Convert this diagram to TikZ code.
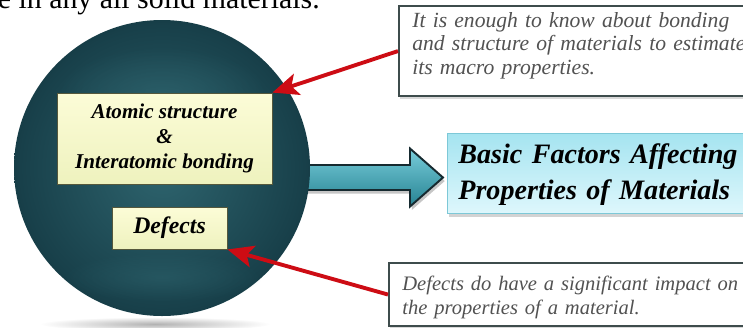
\documentclass[tikz,border=0pt]{standalone}
\usepackage{fontspec}
\setmainfont{Liberation Serif}
\usetikzlibrary{calc,shadows,fadings,arrows.meta}

\definecolor{balllight}{RGB}{46,100,110}
\definecolor{ballmid}{RGB}{24,64,74}
\definecolor{balldark}{RGB}{8,26,32}
\definecolor{rimblue}{RGB}{140,195,202}
\definecolor{rimpale}{RGB}{205,230,234}
\definecolor{noteline}{RGB}{62,76,76}
\definecolor{boxyellow}{RGB}{252,252,215}
\definecolor{boxyellow2}{RGB}{238,242,190}
\definecolor{boxedge}{RGB}{85,88,60}
\definecolor{cyanlight}{RGB}{222,247,252}
\definecolor{cyandark}{RGB}{165,228,240}
\definecolor{cyanedge}{RGB}{125,200,215}
\definecolor{arrowlight}{RGB}{120,205,218}
\definecolor{arrowdark}{RGB}{38,130,146}
\definecolor{arrowedge}{RGB}{22,42,48}
\definecolor{arrowred}{RGB}{205,12,20}

\pgfdeclareradialshading{glassball}{\pgfpoint{0bp}{0bp}}{%
    color(0bp)=(balllight); color(24bp)=(ballmid); color(40bp)=(balldark);
    color(47bp)=(balldark); color(49bp)=(rimblue); color(50bp)=(rimpale)}
\tikzfading[name = softglow, inner color = transparent!0, outer color = transparent!100]

\begin{document}
\begin{tikzpicture}[>=Stealth,
    yellowbox/.style = {draw = boxedge, line width = 0.5pt, top color = boxyellow, bottom color = boxyellow2, align = center, inner sep = 0pt},
    notebox/.style = {draw = noteline, line width = 1.2pt, fill = white, anchor = north west, inner sep = 0pt, drop shadow = {opacity = 0.3, shadow xshift = 0.6pt, shadow yshift = -1.5pt}},
    notetext/.style = {text = black!68, anchor = base west, align = left, inner sep = 0pt},
    redarrow/.style = {-{Stealth[length = 5.2mm, width = 4.4mm, inset = 1.2mm]}, draw = arrowred, line width = 2.2pt},
    bigarrow/.style = {draw = arrowedge, line width = 1.1pt, line join = miter, top color = arrowlight, bottom color = arrowdark, drop shadow = {opacity = 0.45, shadow xshift = 1pt, shadow yshift = -2pt}}
]
    \useasboundingbox (0, 0) rectangle (14.86, 6.54);
    \clip (0, 0) rectangle (14.86, 6.54);

    % line of text cut by the top edge
    \node (line) [anchor = base west, inner sep = 0pt, font = \fontsize{17}{20}\selectfont] at (-0.05, 6.38) {e in any all solid materials.};

    % result box and big arrow
    \node (basic) [draw = cyanedge, line width = 0.6pt, top color = cyandark, bottom color = cyanlight, minimum width = 6.2cm, minimum height = 1.6cm, anchor = north west, drop shadow = {opacity = 0.35, shadow xshift = 1pt, shadow yshift = -2pt}] at (8.94, 3.88) {};
    \node (basictext) [anchor = base west, inner sep = 0pt, text width = 6.2cm, align = left, font = \fontsize{16}{20.5}\selectfont\bfseries\itshape] at (9.16, 3.28) {\makebox[5.68cm][s]{Basic Factors Affecting}\\ Properties of Materials};

    \coordinate (tip) at ($(basic.west) + (-0.08, -0.08)$);
    \draw [bigarrow] (tip) -- ++(-0.66, 0.58) -- ++(0, -0.33) -- ++(-2.3, 0) -- ++(0, -0.5) -- ++(2.3, 0) -- ++(0, -0.33) -- cycle;

    % sphere
    \fill [black!30, path fading = softglow] (3.1, 0.06) ellipse (2.3 and 0.14);
    \node (ball) [circle, minimum size = 5.92cm, inner sep = 0pt, shade, shading = glassball] at (3.24, 3.18) {};
    \fill [balllight, opacity = 0.6, path fading = softglow] (3.24, 4.7) ellipse (2.1 and 0.9);
    \fill [balllight, opacity = 0.5, path fading = softglow] (3.24, 1.0) ellipse (2.0 and 0.5);

    \node (atomic) [yellowbox, minimum width = 4.3cm, minimum height = 1.82cm, font = \fontsize{12}{14.4}\selectfont\bfseries\itshape] at (3.29, 3.77) {Atomic structure\\ \&\\ Interatomic bonding};
    \node (defects) [yellowbox, minimum width = 2.3cm, minimum height = 0.84cm, font = \fontsize{13.5}{16}\selectfont\bfseries\itshape] at (3.39, 1.98) {Defects};

    % notes
    \node (note1) [notebox, minimum width = 7.2cm, minimum height = 1.8cm] at (7.96, 6.44) {};
    \node (note1text) [notetext, text width = 8cm, font = \fontsize{12.3}{13.3}\selectfont\itshape] at (8.24, 5.99) {\makebox[6.54cm][s]{It is enough to know about bonding}\\ \makebox[6.54cm][s]{and structure of materials to estimate}\\ its macro properties.};
    \node (note2) [notebox, minimum width = 7.4cm, minimum height = 1.26cm] at (7.76, 1.3) {};
    \node (note2text) [notetext, text width = 8cm, font = \fontsize{11.7}{14.2}\selectfont\itshape] at (8.04, 0.74) {Defects do have a significant impact on\\ the properties of a material.};

    \draw [redarrow] (note1.west) -- (atomic.north east);
    \draw [redarrow] (note2.west) -- (defects.south east);
\end{tikzpicture}
\end{document}
